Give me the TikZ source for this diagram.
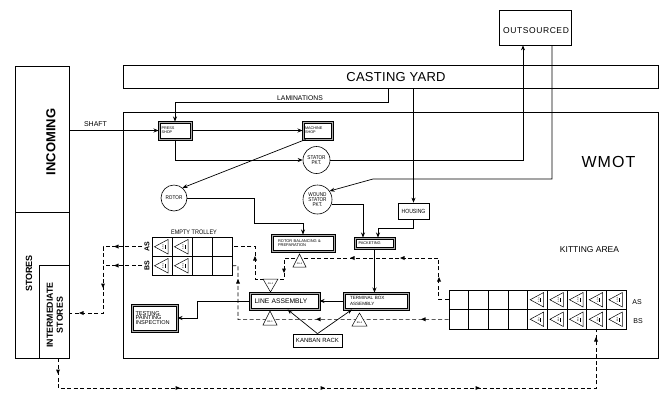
\documentclass[tikz,border=0pt]{standalone}
\usepackage{fontspec}
\setmainfont{Liberation Sans}
\newfontfamily\spA[LetterSpace=2]{Liberation Sans}
\newfontfamily\spB[LetterSpace=7]{Liberation Sans}
\newfontfamily\nar[FakeStretch=0.85]{Liberation Sans}
\usetikzlibrary{arrows.meta,calc}
\newcommand{\myfs}[2]{\fontsize{#1}{#2}\selectfont}
\newcommand{\atip}[3]{\fill[shift={(#1,#2)},rotate=#3] (0,0) -- (-4.5,-2) -- (-4.5,2) -- cycle;}
\newcommand{\kcard}[3]{%
  \draw[line width=0.5pt] (#1+2.5,#2+9.75) -- (#1+16,#2+2.5) -- (#1+16,#2+17) -- cycle;
  \fill (#1+12.5,#2+8) rectangle (#1+13.5,#2+12);
  \node[rotate=90,font=\myfs{2}{2},inner sep=0pt] at (#1+11,#2+10) {#3};}
\tikzset{
  box/.style={draw, rectangle, inner sep=0pt, line width=0.7pt},
  dbox/.style={draw=black, double=gray!65, double distance=1pt, line width=1pt,
               rectangle, inner sep=0pt, fill=white},
  circ/.style={draw, circle, inner sep=0pt, fill=white, line width=0.6pt},
  arr/.style={-{Stealth[length=5pt,width=4pt]}, line width=0.7pt},
  dsh/.style={dash pattern=on 4pt off 2.5pt, line width=0.7pt},
  sigtri/.style={draw, fill=white, line width=0.5pt},
  siglbl/.style={font=\myfs{2.4}{2.4}, inner sep=0pt}
}
\begin{document}
\begin{tikzpicture}[x=1pt,y=-1pt,line width=0.7pt]
\useasboundingbox (0,0) rectangle (664,392);
\fill[white] (0,0) rectangle (664,392);

% ---- left column
\node[box, minimum width=54, minimum height=146] (incoming) at (42,139) {};
\node[rotate=90, font=\bfseries\myfs{13}{13}] (inctxt) at (51,142) {INCOMING};
\node[box, minimum width=54, minimum height=146] (stores) at (42,285) {};
\node[rotate=90, font=\bfseries\myfs{9}{9}] (storestxt) at (29,273.5) {STORES};
\node[box, minimum width=30, minimum height=93] (inter) at (54,311.5) {};
\node[rotate=90, align=center, font=\bfseries\myfs{8.8}{10}] (intertxt) at (55,315) {INTERMEDIATE\\STORES};

% ---- big boxes
\node[box, minimum width=535, minimum height=23] (casting) at (390.5,76.5) {};
\node[font=\spA\myfs{13}{13}] (castingtxt) at (396,77) {CASTING YARD};
\node[box, minimum width=535, minimum height=246] (wmot) at (390.5,235) {};
\node[font=\spB\myfs{16}{16}] (wmottxt) at (608.5,162) {WMOT};
\node[font=\myfs{8.5}{8.5}] (kittxt) at (589.5,250) {KITTING AREA};
\node[box, minimum width=72, minimum height=35] (outsourced) at (535,27.5) {};
\node[font=\spB\myfs{8.5}{8.5}] (outtxt) at (536,31) {OUTSOURCED};

% ---- process nodes
\node[dbox, minimum width=32, minimum height=17, text width=27, align=left, font=\myfs{3.8}{4}] (press) at (175,130.5) {PRESS\\SHOP};
\node[dbox, minimum width=29, minimum height=17, text width=25, align=left, font=\myfs{3.8}{4}] (machine) at (317.5,130.5) {MACHINE\\SHOP};
\node[circ, minimum size=27, align=center, font=\nar\myfs{5.5}{4.5}] (stator) at (316.5,160) {STATOR\\PKT.};
\node[circ, minimum size=26, font=\nar\myfs{5.5}{5.5}] (rotor) at (174,198) {ROTOR};
\node[circ, minimum size=29, align=center, font=\nar\myfs{5.5}{4.8}] (wound) at (317.5,199.5) {WOUND\\STATOR\\PKT.};
\node[box, minimum width=31, minimum height=16, font=\nar\myfs{6}{6}] (housing) at (413.5,211) {HOUSING};
\node[dbox, minimum width=62, minimum height=16, text width=50, align=left, font=\myfs{4}{4.5}] (rotbal) at (303,243) {ROTOR BALANCING \&\\PREPARATION};
\node[dbox, minimum width=39, minimum height=10, text width=32, align=left, font=\myfs{3.9}{4}] (pack) at (374.5,243) {PACKETING};
\node[dbox, minimum width=64, minimum height=16, text width=52, align=left, font=\myfs{4.6}{5.2}] (term) at (376,301) {TERMINAL BOX\\ASSEMBLY};
\node[dbox, minimum width=69, minimum height=16, text width=60, align=left, font=\myfs{6.7}{7}] (line) at (284.5,301) {LINE ASSEMBLY};
\node[dbox, minimum width=45, minimum height=26, text width=38, align=left, font=\myfs{5.6}{4.2}] (testing) at (154.5,318) {TESTING\\PAINTING\\INSPECTION};
\node[box, minimum width=49, minimum height=13, font=\myfs{6}{6}] (kanban) at (317.5,340.5) {KANBAN RACK};

% ---- trolley grid
\node[box, minimum width=80, minimum height=38] (trol) at (192,256) {};
\foreach \xx in {172,192,212} \draw (\xx,237) -- (\xx,275);
\draw (152,256) -- (232,256);
\node[font=\myfs{6.5}{6.5}\nar] (troltxt) at (194,232) {EMPTY TROLLEY};
\node[rotate=90, font=\bfseries\myfs{7}{7}] (tas) at (147,246.5) {AS};
\node[rotate=90, font=\bfseries\myfs{7}{7}] (tbs) at (147,265.5) {BS};
\kcard{152}{237}{AS-1}
\kcard{172}{237}{AS-2}
\kcard{152}{256}{BS-1}
\kcard{172}{256}{BS-2}

% ---- kitting grid
\node[box, minimum width=177, minimum height=39] (kit) at (537.5,309.5) {};
\foreach \i in {1,...,8} \draw ({449+\i*19.667},290) -- ++(0,39);
\draw (449,309.5) -- (626,309.5);
\foreach \i/\n in {4/1,5/2,6/3,7/4,8/5}{
  \pgfmathsetmacro{\cx}{449+\i*19.667}
  \kcard{\cx}{290}{AS-\n}
  \kcard{\cx}{309.5}{BS-\n}
}
\node[font=\myfs{7}{7}] (kas) at (637,302) {AS};
\node[font=\myfs{7}{7}] (kbs) at (638,321) {BS};

% ---- solid connectors
\draw[arr] (incoming.east |- press.west) -- (press.west);
\node[font=\myfs{7}{7}] (shaftlbl) at (95.5,124) {SHAFT};
\coordinate (lamx) at (388,0);
\draw[arr] (casting.south -| lamx) -- ++(0,14) -| (press.north);
\node[font=\myfs{6.8}{6.8}] (lamlbl) at (300,98) {LAMINATIONS};
\draw[arr] (press.east) -- (machine.west);
\draw[arr] (press.south) |- (stator.west);
\draw[arr] ([xshift=3pt]machine.south west) -- (rotor.50);
\draw[arr] (stator.east) -| ([xshift=-12pt]outsourced.south);
\coordinate (wb) at (373,179);
\draw[arr] ([xshift=17pt]outsourced.south) |- (wb) -- (wound.35);
\coordinate (rb) at (254,223);
\draw[arr] (rotor.east) -| (rb) -| (rotbal.north);
\draw[arr] (wound.-18) -| ([xshift=-11.5pt]pack.north);
\draw[arr] (casting.south -| housing.north) -- (housing.north);
\draw[arr] (housing.south) -- ++(0,9) -| ([xshift=3.5pt]pack.north);
\draw[arr] (pack.south) -- (pack.south |- term.north);
\draw[arr] (term.west) -- (line.east);
\coordinate (tb) at (197,318);
\draw[arr] (line.west) -| (tb) -- (testing.east);
\draw[arr] (kanban.north) -- ([xshift=3pt]line.south);
\draw[arr] (kanban.north) -- ([xshift=-24pt]term.south);

% ---- dashed kanban loops
\coordinate (kAS) at ($(kit.north west)+(0,9.75)$);
\coordinate (kBS) at ($(kit.south west)+(0,-9.75)$);
\coordinate (tAS) at ($(trol.north east)+(0,9.5)$);
\coordinate (tBS) at ($(trol.south east)+(0,-9.5)$);
\draw[dsh] (kAS) -- ++(-10,0) |- (284,258) -- (284,279) -- (255,279) |- (tAS);
\draw[dsh] (kBS) -| (238,265.5) -- (tBS);
\coordinate (lAS) at (142,246.5);
\coordinate (lBS) at (142,265.5);
\coordinate (ly) at (0,313);
\draw[dsh] (lAS) -| (103,313) -- (inter.east |- ly);
\draw[dsh] (lBS) -- (103,265.5);
\coordinate (kx) at (596,0);
\draw[dsh] ([xshift=4pt]inter.south) -- ++(0,30) -| (kit.south -| kx);

% arrow heads on dashed lines
\atip{439}{277}{90}
\atip{400}{258}{180}
\atip{350}{258}{180}
\atip{284}{273}{270}
\atip{255}{256}{90}
\atip{421}{319.25}{180}
\atip{316}{319.25}{180}
\atip{238}{279}{90}
\atip{114}{246.5}{180}
\atip{114}{265.5}{180}
\atip{103}{288}{270}
\atip{79}{313}{180}
\atip{58}{374}{270}
\atip{180}{388}{0}
\atip{325}{388}{0}
\atip{480}{388}{0}
\atip{596}{337}{90}

% signal triangles
\draw[sigtri] (263,279) -- (278,279) -- (270.5,292) -- cycle;
\node[siglbl] (sas1) at (270.5,283.5) {AS-1};
\draw[sigtri] (293,267) -- (306,267) -- (299.5,254) -- cycle;
\node[siglbl] (sas4) at (299.5,263.5) {AS-4};
\draw[sigtri] (263,325) -- (277,325) -- (270,311) -- cycle;
\node[siglbl] (sbs1) at (270,321.5) {BS-1};
\draw[sigtri] (352,326) -- (367,326) -- (359.5,313) -- cycle;
\node[siglbl] (sbs4) at (359.5,322.5) {BS-4};
\end{tikzpicture}
\end{document}
